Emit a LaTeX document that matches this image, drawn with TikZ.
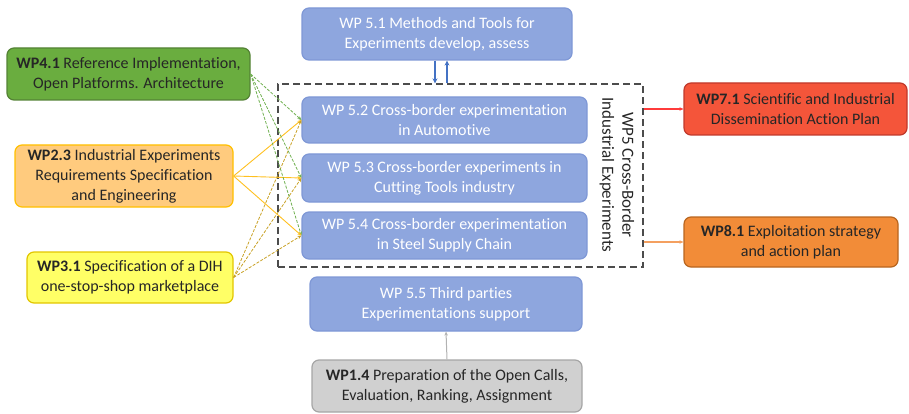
\documentclass[tikz,border=0pt]{standalone}
\usepackage{fontspec}
\setmainfont{Carlito}[Ligatures=NoCommon]
\usetikzlibrary{arrows.meta}
\definecolor{bluefill}{HTML}{8EA6DE}
\definecolor{blueedge}{HTML}{7F98D6}
\definecolor{greenfill}{HTML}{6AAD3F}
\definecolor{greenedge}{HTML}{548235}
\definecolor{ofill}{HTML}{FFCB7E}
\definecolor{oedge}{HTML}{FFC000}
\definecolor{yfill}{HTML}{FFFF66}
\definecolor{yedge}{HTML}{E2C600}
\definecolor{rfill}{HTML}{F4553A}
\definecolor{redge}{HTML}{C0392B}
\definecolor{o2fill}{HTML}{F28C38}
\definecolor{o2edge}{HTML}{B8651E}
\definecolor{gfill}{HTML}{D0D0D0}
\definecolor{gedge}{HTML}{A6A6A6}
\definecolor{txt}{HTML}{262626}
\definecolor{glink}{HTML}{70B050}
\definecolor{olink}{HTML}{FFC020}
\definecolor{ylink}{HTML}{C9A227}
\definecolor{rlink}{HTML}{FF3B3B}
\definecolor{o2link}{HTML}{F4A060}
\definecolor{barrow}{HTML}{4472C4}
\begin{document}
\begin{tikzpicture}[x=1pt,y=-1pt,
  wpbox/.style={draw, line width=1.2pt, rounded corners=7pt, align=center,
    inner sep=1pt, font=\fontsize{16}{20}\selectfont},
  bluebox/.style={wpbox, fill=bluefill, draw=blueedge, text=white},
  tip/.style={-{Stealth[length=4pt,width=3.5pt]}},
  glinks/.style={draw=glink, line width=0.8pt, dashed, dash pattern=on 3pt off 1.5pt, tip},
  olinks/.style={draw=olink, line width=0.9pt, tip},
  ylinks/.style={draw=ylink, line width=0.8pt, dashed, dash pattern=on 3pt off 1.5pt, tip}
]
\useasboundingbox (0,0) rectangle (909,414);

% WP5 container
\node (wp5) [draw=black!70, dashed, dash pattern=on 7pt off 4pt, line width=1.3pt,
  minimum width=365pt, minimum height=183pt, inner sep=0pt] at (460.5,175.5) {};
\node (wp5lbl) [rotate=-90, align=center, text=txt, font=\fontsize{17}{20}\selectfont]
  at (617,175) {WP5 Cross-Border\\Industrial Experiments};

% blue boxes
\node (wp51) [bluebox, minimum width=270pt, minimum height=52pt] at (437,34)
  {WP 5.1 Methods and Tools for\\Experiments develop, assess};
\node (wp52) [bluebox, minimum width=285pt, minimum height=46pt] at (444.5,120)
  {WP 5.2 Cross-border experimentation\\in Automotive};
\node (wp53) [bluebox, minimum width=285pt, minimum height=48pt] at (444.5,178)
  {WP 5.3 Cross-border experiments in\\Cutting Tools industry};
\node (wp54) [bluebox, minimum width=285pt, minimum height=47pt] at (444.5,235.5)
  {WP 5.4 Cross-border experimentation\\in Steel Supply Chain};
\node (wp55) [bluebox, minimum width=272pt, minimum height=54pt] at (446,304)
  {WP 5.5 Third parties\\Experimentations support};

% left boxes
\node (wp41) [wpbox, fill=greenfill, draw=greenedge, text=txt,
  minimum width=243pt, minimum height=52pt] at (128.5,74)
  {\textbf{WP4.1} Reference Implementation,\\Open Platforms. Architecture};
\node (wp23) [wpbox, fill=ofill, draw=oedge, text=txt,
  minimum width=218pt, minimum height=62pt] at (124,176)
  {\textbf{WP2.3} Industrial Experiments\\Requirements Specification\\and Engineering};
\node (wp31) [wpbox, fill=yfill, draw=yedge, text=txt,
  minimum width=206pt, minimum height=51pt] at (130,277.5)
  {\textbf{WP3.1} Specification of a DIH\\one-stop-shop marketplace};

% right boxes
\node (wp71) [wpbox, fill=rfill, draw=redge, text=txt,
  minimum width=223pt, minimum height=52pt] at (795.5,109)
  {\textbf{WP7.1} Scientific and Industrial\\Dissemination Action Plan};
\node (wp81) [wpbox, fill=o2fill, draw=o2edge, text=txt,
  minimum width=214pt, minimum height=50pt] at (791,242)
  {\textbf{WP8.1} Exploitation strategy\\and action plan};

% bottom box
\node (wp14) [wpbox, fill=gfill, draw=gedge, text=txt,
  minimum width=270pt, minimum height=52pt] at (447,386)
  {\textbf{WP1.4} Preparation of the Open Calls,\\Evaluation, Ranking, Assignment};

% connectors from the left
\foreach \t in {wp52,wp53,wp54} {
  \draw[glinks] (wp41.east) -- (\t.west);
  \draw[olinks] (wp23.east) -- (\t.west);
  \draw[ylinks] (wp31.east) -- (\t.west);
}

% WP5.1 <-> WP5
\draw[barrow, line width=1.5pt, -{Stealth[length=5pt,width=5pt]}]
  ([xshift=-2pt]wp51.south) -- ([xshift=-2pt]wp51.south |- wp5.north);
\draw[barrow, line width=1.5pt, -{Stealth[length=5pt,width=5pt]}]
  ([xshift=10pt]wp51.south |- wp5.north) -- ([xshift=10pt]wp51.south);

% outputs
\draw[rlink, line width=1.2pt, tip] (wp5.east |- wp71.west) -- (wp71.west);
\draw[o2link, line width=1.2pt, tip] (wp5.east |- wp81.west) -- (wp81.west);

% WP1.4 -> WP5.5
\draw[gray!60, line width=1pt, tip] (wp14.north) -- (wp55.south);
\end{tikzpicture}
\end{document}
